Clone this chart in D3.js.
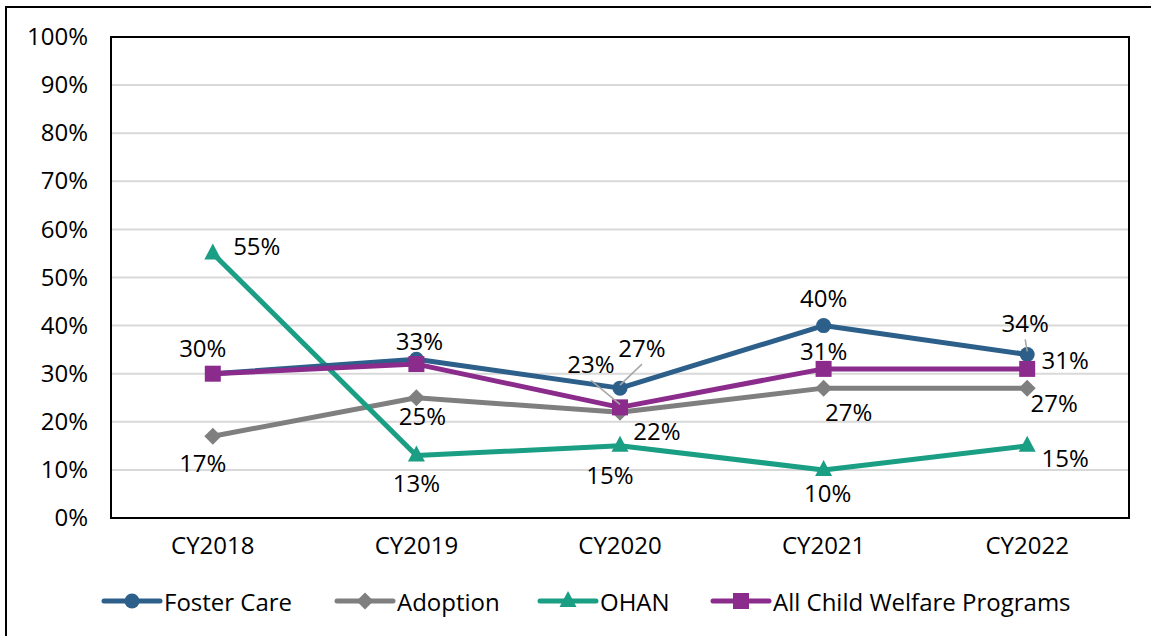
<!DOCTYPE html>
<html><head><meta charset="utf-8">
<script src="https://cdn.jsdelivr.net/npm/d3@7"></script>
<style>
body{margin:0;background:#fff;}
text{font-family:"Open Sans",sans-serif;fill:#000;}
</style></head>
<body><svg id="c" width="1151" height="636"></svg>
<script>
const categories = ["CY2018","CY2019","CY2020","CY2021","CY2022"];
const fosterCare = [30,33,27,40,34];
const adoption = [17,25,22,27,27];
const ohan = [55,13,15,10,15];
const allPrograms = [30,32,23,31,31];
const yTicks = [0,10,20,30,40,50,60,70,80,90,100];
const seriesNames = ["Foster Care","Adoption","OHAN","All Child Welfare Programs"];

// label layout offsets (dx, dy from point; null = no label; third item = leader line)
const fosterLabels = [[-10,-26],[3,-19],[22,-41,1],[0,-28],[-2,-32,1]];
const adoptionLabels = [[-10,26],[6,18],[37,18],[25,23],[27,14]];
const ohanLabels = [[44,-8],[0,27],[-10,29],[4,23],[38,12]];
const allLabels = [null,null,[-29,-44,1],[0,-18],[38,-9]];

const series = [
  {name:seriesNames[0], values:fosterCare, color:"#2C5F8A", marker:"circle", labels:fosterLabels},
  {name:seriesNames[1], values:adoption, color:"#7F7F7F", marker:"diamond", labels:adoptionLabels},
  {name:seriesNames[2], values:ohan, color:"#1A9E84", marker:"triangle", labels:ohanLabels},
  {name:seriesNames[3], values:allPrograms, color:"#8B2C8C", marker:"square", labels:allLabels}
];

const svg = d3.select("#c");
const L=111, R=1129, T=37, B=518;
const x = d3.scaleBand().domain(categories).range([L,R]);
const y = d3.scaleLinear().domain([0,100]).range([B,T]);
const fs = 24;
const ff = "'Open Sans',sans-serif";

// outer frame
svg.append("rect").attr("x",6).attr("y",7).attr("width",1200).attr("height",700)
  .attr("fill","none").attr("stroke","#000").attr("stroke-width",2);

// gridlines
svg.append("g").selectAll("line").data(yTicks).join("line")
  .attr("x1",L).attr("x2",R).attr("y1",d=>y(d)).attr("y2",d=>y(d))
  .attr("stroke","#D9D9D9").attr("stroke-width",2);

// y axis labels
const yAxis = d3.axisLeft(y).tickValues(yTicks).tickFormat(d=>d+"%").tickSize(0).tickPadding(23);
const gy = svg.append("g").attr("transform",`translate(${L},0)`).call(yAxis);
gy.select(".domain").remove();
gy.selectAll("text").style("font-size",fs+"px").style("font-family",ff).attr("fill","#000");

// x axis labels
const xAxis = d3.axisBottom(x).tickSize(0).tickPadding(19);
const gx = svg.append("g").attr("transform",`translate(0,${B})`).call(xAxis);
gx.select(".domain").remove();
gx.selectAll("text").style("font-size",fs+"px").style("font-family",ff).attr("fill","#000");

// plot border
svg.append("rect").attr("x",L).attr("y",T).attr("width",R-L).attr("height",B-T)
  .attr("fill","none").attr("stroke","#000").attr("stroke-width",2);

const cx = d=>x(d)+x.bandwidth()/2;
const line = d3.line().x((d,i)=>cx(categories[i])).y(d=>y(d));

function drawMarker(g, type, color, px, py){
  if(type==="circle") g.append("circle").attr("cx",px).attr("cy",py).attr("r",7.5).attr("fill",color);
  else if(type==="square") g.append("rect").attr("x",px-8).attr("y",py-8).attr("width",16).attr("height",16).attr("fill",color);
  else if(type==="diamond") g.append("path").attr("d",`M${px},${py-8.5}L${px+8.5},${py}L${px},${py+8.5}L${px-8.5},${py}Z`).attr("fill",color);
  else if(type==="triangle") g.append("path").attr("d",`M${px},${py-10}L${px+8.5},${py+6}L${px-8.5},${py+6}Z`).attr("fill",color);
}

const order = [1,2,0,3];
order.forEach(si=>{
  const s = series[si];
  const g = svg.append("g");
  g.append("path").datum(s.values).attr("d",line).attr("fill","none")
    .attr("stroke",s.color).attr("stroke-width",5).attr("stroke-linejoin","round");
  s.values.forEach((v,i)=>drawMarker(g,s.marker,s.color,cx(categories[i]),y(v)));
});

// data labels
series.forEach(s=>{
  s.values.forEach((v,i)=>{
    const off = s.labels[i];
    if(!off) return;
    const px = cx(categories[i]), py = y(v);
    const tx = px+off[0], ty = py+off[1];
    if(off[2]){
      svg.append("line").attr("x1",px).attr("y1",py-3).attr("x2",tx).attr("y2",ty+17)
        .attr("stroke","#A6A6A6").attr("stroke-width",1.5);
    }
    svg.append("text").attr("x",tx).attr("y",ty).attr("text-anchor","middle")
      .attr("dominant-baseline","central").style("font-size",fs+"px").text(v+"%");
  });
});

// legend
const legendX = [104,337,540,713];
const lg = svg.append("g");
series.forEach((s,i)=>{
  const lx = legendX[i], ly = 601;
  lg.append("line").attr("x1",lx).attr("x2",lx+56).attr("y1",ly).attr("y2",ly)
    .attr("stroke",s.color).attr("stroke-width",5).attr("stroke-linecap","round");
  drawMarker(lg,s.marker,s.color,lx+28,ly);
  lg.append("text").attr("x",lx+60).attr("y",ly).attr("dominant-baseline","central")
    .style("font-size",fs+"px").text(s.name);
});
</script></body></html>
